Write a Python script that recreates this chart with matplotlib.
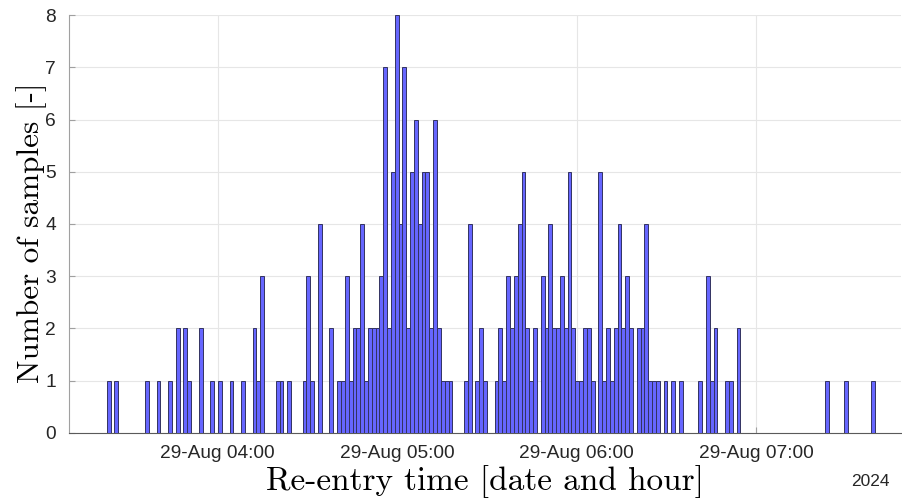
import numpy as np
import matplotlib
matplotlib.use('Agg')
import matplotlib.pyplot as plt
import matplotlib.dates as mdates

# histogram counts, 200 equal bins
counts = [1, 0, 1, 0, 0, 0, 0, 0, 0, 0,
          1, 0, 0, 1, 0, 0, 1, 0, 2, 0,
          2, 1, 0, 0, 2, 0, 0, 1, 0, 1,
          0, 0, 1, 0, 0, 1, 0, 0, 2, 1,
          3, 0, 0, 0, 1, 1, 0, 1, 0, 0,
          0, 1, 3, 1, 0, 4, 0, 0, 2, 0,
          1, 1, 3, 1, 2, 2, 4, 1, 2, 2,
          2, 3, 7, 2, 5, 8, 4, 7, 2, 5,
          6, 4, 5, 5, 2, 6, 2, 1, 1, 1,
          0, 0, 0, 1, 4, 0, 1, 2, 1, 0,
          0, 1, 2, 1, 3, 2, 3, 4, 5, 2,
          1, 2, 0, 3, 2, 4, 2, 2, 3, 2,
          5, 2, 1, 1, 2, 2, 1, 0, 5, 1,
          2, 1, 2, 4, 2, 3, 2, 0, 2, 2,
          4, 1, 1, 1, 0, 1, 0, 1, 0, 1,
          0, 0, 0, 0, 1, 0, 3, 1, 2, 0,
          0, 1, 1, 0, 2, 0, 0, 0, 0, 0,
          0, 0, 0, 0, 0, 0, 0, 0, 0, 0,
          0, 0, 0, 0, 0, 0, 0, 1, 0, 0,
          0, 0, 1, 0, 0, 0, 0, 0, 0, 1]
bin_start = np.datetime64('2024-08-29T03:22:53')
bin_width_s = 77.06
x_limits = ['2024-08-29T03:10:12', '2024-08-29T07:48:30']
tick_times = ['2024-08-29T04:00', '2024-08-29T05:00', '2024-08-29T06:00', '2024-08-29T07:00']
y_ticks = [0, 1, 2, 3, 4, 5, 6, 7, 8]

edges = bin_start + (np.arange(len(counts)) * bin_width_s * 1000).astype('timedelta64[ms]')
xs = mdates.date2num(edges)
w = bin_width_s / 86400.0

fig = plt.figure(figsize=(9.02, 5.0), dpi=100)
ax = fig.add_axes([0.0762, 0.1346, 0.9228, 0.8348])

ax.bar(xs, counts, width=w, align='edge', color=(0.4, 0.4, 1.0),
       edgecolor=(0.2, 0.2, 0.38), linewidth=0.7, zorder=3)

ax.set_xlim(mdates.date2num(np.array(x_limits, dtype='datetime64[s]')))
ax.set_ylim(0, 8)
ax.set_yticks(y_ticks)
ticks = mdates.date2num(np.array(tick_times, dtype='datetime64[m]'))
ax.set_xticks(ticks)
ax.xaxis.set_major_formatter(mdates.DateFormatter('%d-%b %H:%M'))

ax.grid(True, color='#e6e6e6', linewidth=0.8, zorder=0)
ax.set_axisbelow(True)
for s in ['top', 'right']:
    ax.spines[s].set_visible(False)
ax.spines['left'].set_color('#a0a0a0')
ax.spines['bottom'].set_color('#5a5a5a')
ax.tick_params(axis='both', direction='in', length=4, colors='#a0a0a0',
               labelcolor='#262626', labelsize=13.8, labelfontfamily='Liberation Sans')
ax.tick_params(axis='y', pad=9)
ax.tick_params(axis='x', pad=9)

ax.set_xlabel('Re-entry time [date and hour]', fontfamily='cmr10', fontsize=24, labelpad=2)
ax.set_ylabel('Number of samples [-]', fontfamily='cmr10', fontsize=22.5, labelpad=-1, y=0.48)
fig.text(0.965, 0.038, '2024', fontsize=12.5, family='Liberation Sans',
         color='#262626', ha='center', va='center')

fig.savefig('out.png', dpi=100)
